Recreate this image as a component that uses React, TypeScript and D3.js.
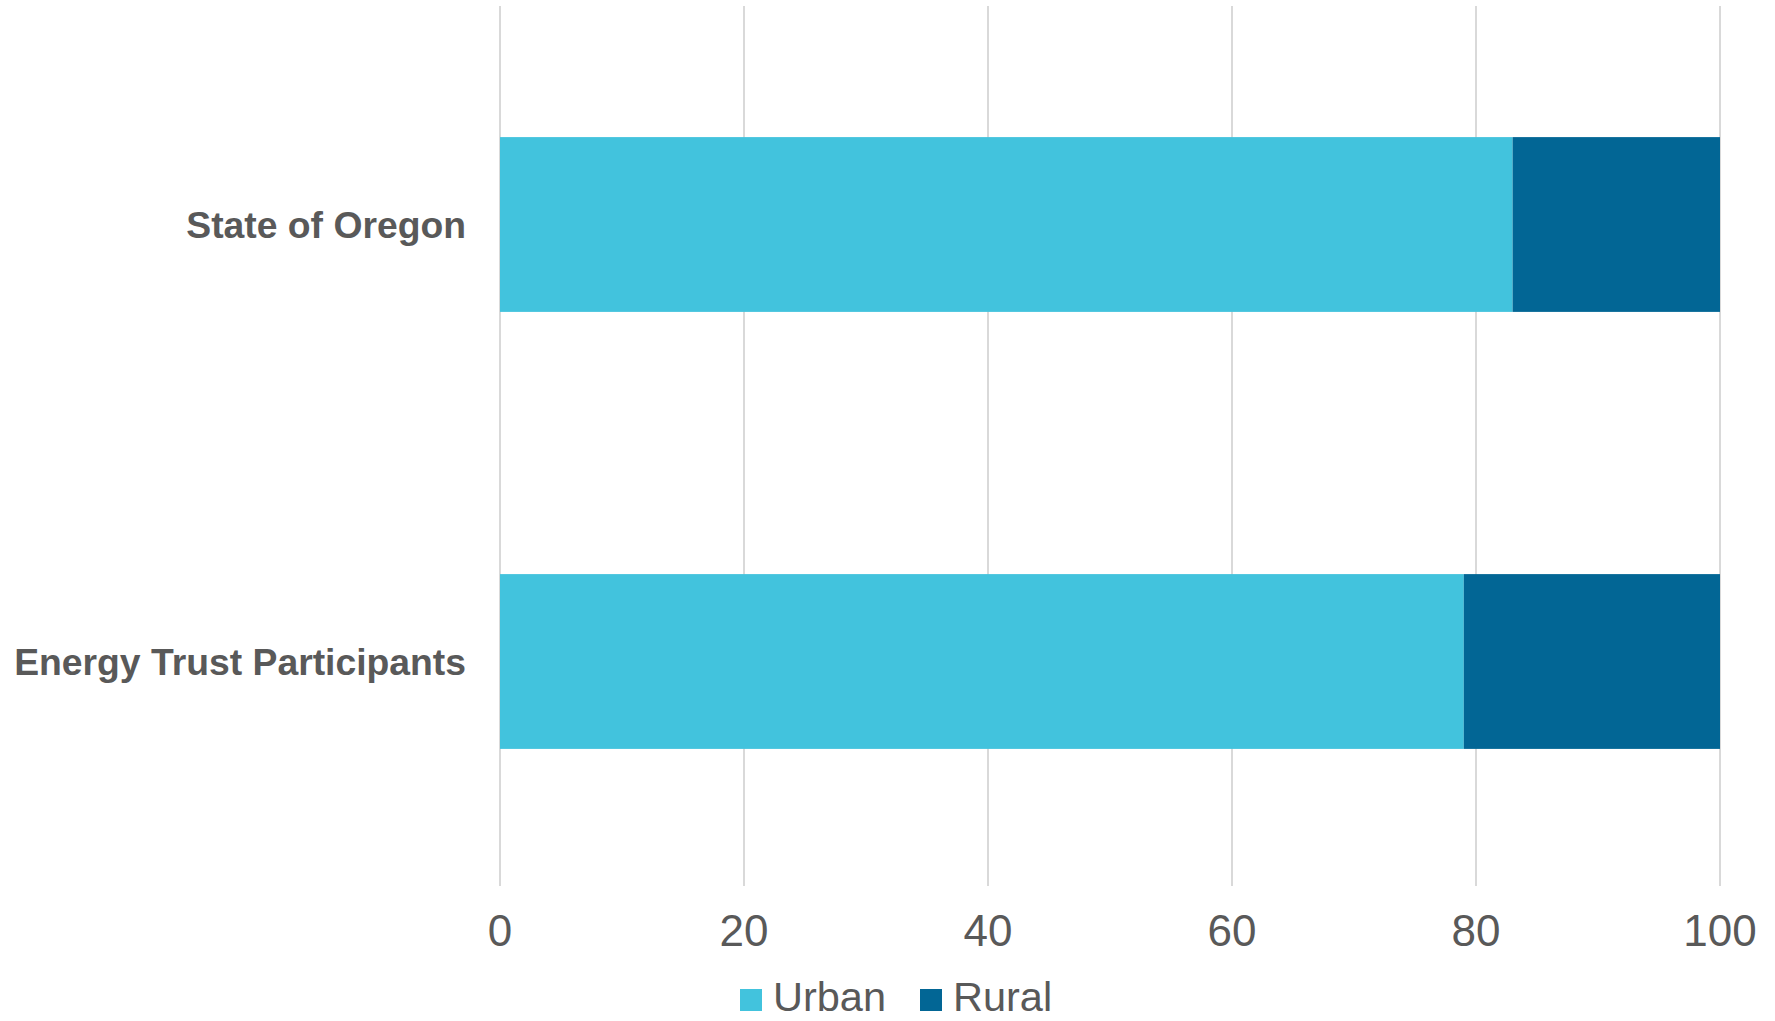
import React from "react";
import * as d3 from "d3";

const categories = ["State of Oregon", "Energy Trust Participants"];
const urban = [83, 79];
const rural = [17, 21];
const seriesNames = ["Urban", "Rural"];
const seriesColors = ["#42C3DD", "#026695"];
const ticks = [0, 20, 40, 60, 80, 100];

const W = 1775;
const H = 1021;

export default function App() {
  const x = d3.scaleLinear().domain([0, 100]).range([500, 1720]);
  const y = d3
    .scaleBand<string>()
    .domain(categories)
    .range([6, 880])
    .paddingInner(0.6)
    .paddingOuter(0.3);

  const stackData = categories.map((c, i) => ({ cat: c, Urban: urban[i], Rural: rural[i] }));
  const stacked = d3.stack<any>().keys(seriesNames)(stackData);
  const font = "Arial, 'Liberation Sans', sans-serif";
  const textColor = "#595959";

  return (
    <svg
      width={W}
      height={H}
      style={{ position: "absolute", left: 0, top: 0, background: "#fff" }}
      fontFamily={font}
    >
      {ticks.map((t) => (
        <line
          key={"g" + t}
          x1={x(t)}
          x2={x(t)}
          y1={6}
          y2={886}
          stroke="#D9D9D9"
          strokeWidth={2}
        />
      ))}
      {stacked.map((s, si) =>
        s.map((d, i) => (
          <rect
            key={si + "-" + i}
            x={x(d[0])}
            y={y(categories[i])}
            width={x(d[1]) - x(d[0])}
            height={y.bandwidth()}
            fill={seriesColors[si]}
          />
        ))
      )}
      {categories.map((c) => (
        <text
          key={c}
          x={466}
          y={(y(c) as number) + y.bandwidth() / 2}
          dy="0.35em"
          textAnchor="end"
          fontSize={37.3}
          fontWeight="bold"
          fill={textColor}
        >
          {c}
        </text>
      ))}
      {ticks.map((t) => (
        <text
          key={"t" + t}
          x={x(t)}
          y={946}
          textAnchor="middle"
          fontSize={44}
          fill={textColor}
        >
          {t}
        </text>
      ))}
      {seriesNames.map((n, i) => {
        const lx = [740, 920][i];
        return (
          <g key={n}>
            <rect x={lx} y={989} width={22} height={22} fill={seriesColors[i]} />
            <text x={lx + 33} y={1011} fontSize={41.5} fill={textColor}>
              {n}
            </text>
          </g>
        );
      })}
    </svg>
  );
}
